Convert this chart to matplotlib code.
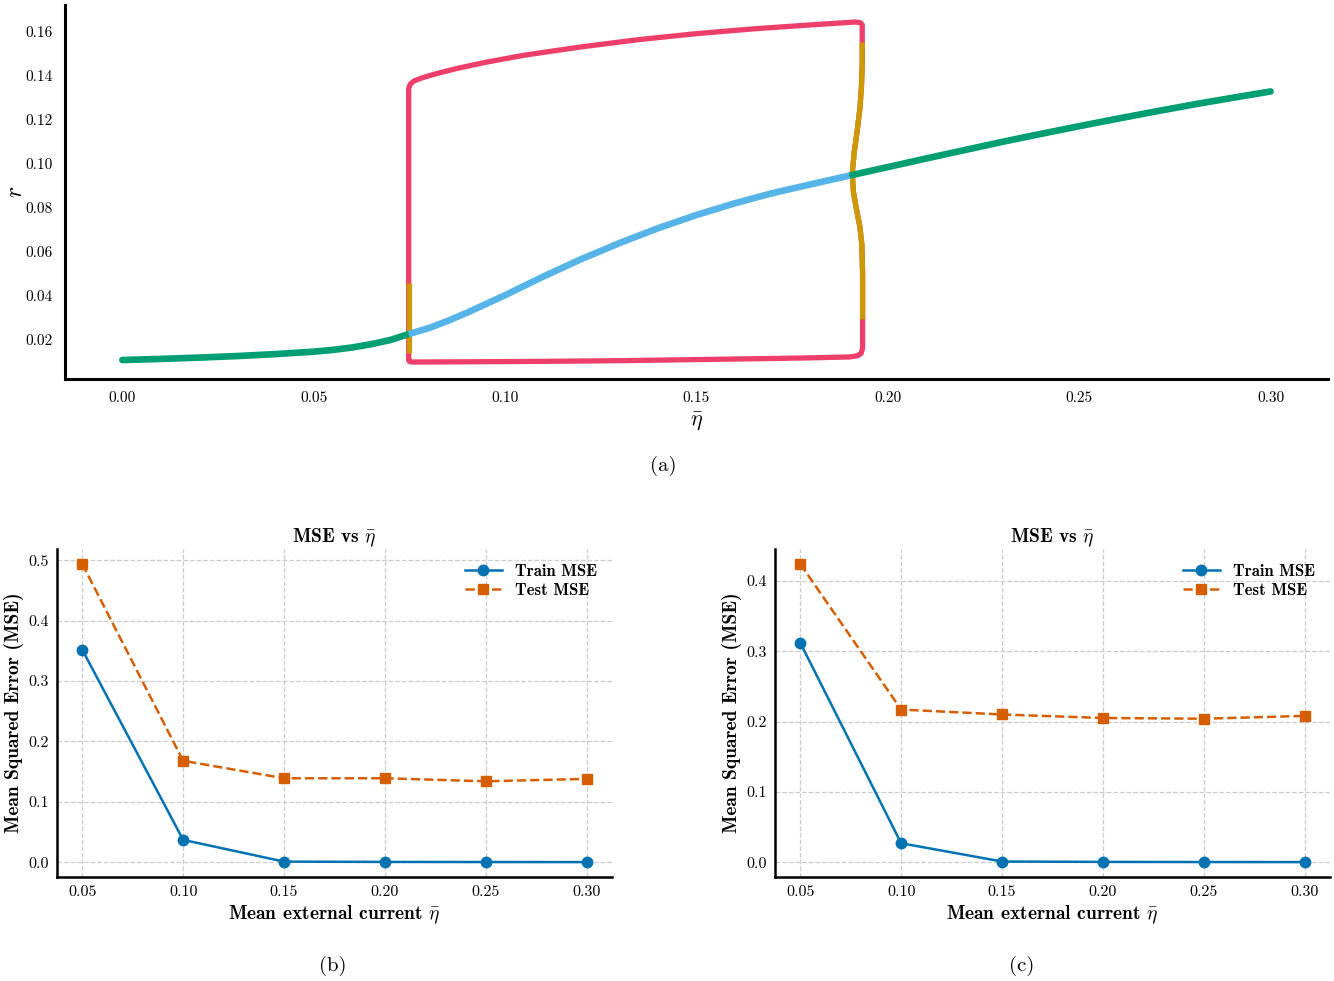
import matplotlib
matplotlib.use("Agg")
import matplotlib.pyplot as plt

plt.rcParams['font.family'] = 'serif'
plt.rcParams['font.serif'] = ['cmr10']
plt.rcParams['mathtext.fontset'] = 'cm'
plt.rcParams['axes.formatter.use_mathtext'] = True
plt.rcParams['axes.unicode_minus'] = False

# ---------------- (a) data ----------------
eta_low = [0.0, 0.01, 0.02, 0.03, 0.04, 0.05, 0.055, 0.06, 0.065, 0.07, 0.0748]
r_low = [0.0105, 0.0110, 0.0116, 0.0123, 0.0132, 0.0143, 0.0151, 0.0162, 0.0177, 0.0196, 0.0223]

eta_mid = [0.0748, 0.08, 0.085, 0.09, 0.095, 0.10, 0.11, 0.12, 0.13, 0.14, 0.15, 0.16, 0.17, 0.18, 0.1907]
r_mid = [0.0223, 0.0250, 0.0283, 0.0320, 0.0360, 0.0400, 0.0485, 0.0565, 0.0638, 0.0705, 0.0765, 0.0818, 0.0865, 0.0905, 0.0947]

eta_high = [0.1907, 0.20, 0.21, 0.22, 0.23, 0.24, 0.25, 0.26, 0.27, 0.28, 0.29, 0.30]
r_high = [0.0947, 0.0983, 0.1022, 0.1060, 0.1098, 0.1134, 0.1169, 0.1203, 0.1236, 0.1268, 0.1298, 0.1327]

loop_eta = [0.0748, 0.0748, 0.0752, 0.0762, 0.0785, 0.0820, 0.0875, 0.095, 0.105, 0.12, 0.135,
            0.15, 0.165, 0.18, 0.1915, 0.1928, 0.1933, 0.1933, 0.1933, 0.1931, 0.1927, 0.1920,
            0.1912, 0.1907, 0.1910, 0.1918, 0.1927, 0.1932, 0.1934, 0.1934, 0.1934, 0.1930,
            0.1920, 0.190, 0.18, 0.17, 0.15, 0.13, 0.11, 0.09, 0.078, 0.0755, 0.0749, 0.0748]
loop_r = [0.0110, 0.1340, 0.1360, 0.1375, 0.1390, 0.1408, 0.1432, 0.1460, 0.1492, 0.1530, 0.1563,
          0.1590, 0.1612, 0.1630, 0.1643, 0.1640, 0.1630, 0.1550, 0.1450, 0.1350, 0.1250, 0.1150,
          0.1050, 0.0955, 0.0870, 0.0790, 0.0710, 0.0630, 0.0500, 0.0290, 0.0160, 0.0135,
          0.0124, 0.0119, 0.0115, 0.0112, 0.0107, 0.0102, 0.0099, 0.0097, 0.0096, 0.0096, 0.0100, 0.0110]

gold_right_eta = [0.1933, 0.1933, 0.1931, 0.1927, 0.1920, 0.1912, 0.1907, 0.1910, 0.1918, 0.1927, 0.1932, 0.1934, 0.1934]
gold_right_r = [0.1550, 0.1450, 0.1350, 0.1250, 0.1150, 0.1050, 0.0955, 0.0870, 0.0790, 0.0710, 0.0630, 0.0500, 0.0290]
gold_left_eta = [0.0748, 0.0748]
gold_left_r = [0.0455, 0.0136]

# ---------------- (b), (c) data ----------------
eta_vals = [0.05, 0.10, 0.15, 0.20, 0.25, 0.30]
train_b = [0.352, 0.037, 0.001, 0.0005, 0.0003, 0.0002]
test_b = [0.494, 0.168, 0.139, 0.139, 0.134, 0.138]
train_c = [0.312, 0.027, 0.001, 0.0005, 0.0003, 0.0002]
test_c = [0.424, 0.217, 0.210, 0.205, 0.204, 0.208]
x_ticks = [0.05, 0.10, 0.15, 0.20, 0.25, 0.30]

GREEN = '#009E73'
BLUE = '#56B4E9'
RED = '#EE3F6B'
GOLD = '#CC9900'
TRAIN = '#0072B2'
TEST = '#D55E00'

fig = plt.figure(figsize=(13.34, 9.81), dpi=100)

# ---------- (a) ----------
ax = fig.add_axes([65/1334, 1-379/981, 1263/1334, 374/981])
ax.plot(loop_eta, loop_r, color=RED, lw=3.8, solid_capstyle='round', solid_joinstyle='round')
ax.plot(gold_right_eta, gold_right_r, color=GOLD, lw=3.8, solid_capstyle='butt')
ax.plot(gold_left_eta, gold_left_r, color=GOLD, lw=3.8, solid_capstyle='butt')
ax.plot(eta_low, r_low, color=GREEN, lw=4.8, solid_capstyle='round')
ax.plot(eta_mid, r_mid, color=BLUE, lw=4.8, solid_capstyle='butt')
ax.plot(eta_high, r_high, color=GREEN, lw=4.8, solid_capstyle='round')
ax.set_xticks([0.0, 0.05, 0.10, 0.15, 0.20, 0.25, 0.30])
ax.set_xticklabels(['0.00', '0.05', '0.10', '0.15', '0.20', '0.25', '0.30'])
ax.set_yticks([0.02, 0.04, 0.06, 0.08, 0.10, 0.12, 0.14, 0.16])
ax.set_yticklabels(['0.02', '0.04', '0.06', '0.08', '0.10', '0.12', '0.14', '0.16'])
ax.tick_params(length=0, labelsize=11, pad=9)
for s in ['top', 'right']:
    ax.spines[s].set_visible(False)
for s in ['left', 'bottom']:
    ax.spines[s].set_linewidth(2.2)
ax.set_xlabel(r'$\bar{\eta}$', fontsize=16, labelpad=4)
ax.set_ylabel(r'$r$', fontsize=17)
ax.yaxis.set_label_coords(-38/1263, 0.5)
fig.text(663/1334, 1-466/981, '(a)', fontsize=15, ha='center', va='center')

# ---------- (b), (c) ----------
def mse_panel(rect, train, test, yticks, caption, cx):
    a = fig.add_axes(rect)
    a.grid(True, linestyle='--', color='#cccccc', linewidth=0.9)
    a.set_axisbelow(True)
    a.plot(eta_vals, train, color=TRAIN, lw=1.8, marker='o', markersize=7.5, label='Train MSE')
    a.plot(eta_vals, test, color=TEST, lw=1.8, ls='--', marker='s', markersize=7.5, label='Test MSE')
    a.set_xticks(x_ticks)
    a.set_xticklabels(['%.2f' % v for v in x_ticks])
    a.set_yticks(yticks)
    a.set_yticklabels(['%.1f' % v for v in yticks])
    a.tick_params(length=0, labelsize=11.5, pad=6)
    for s in ['top', 'right']:
        a.spines[s].set_visible(False)
    for s in ['left', 'bottom']:
        a.spines[s].set_linewidth(1.8)
    a.set_title(r'MSE vs $\bar{\eta}$', fontsize=14, fontfamily='cmb10', pad=5)
    a.set_xlabel(r'Mean external current $\bar{\eta}$', fontsize=14, fontfamily='cmb10', labelpad=3)
    a.set_ylabel('Mean Squared Error (MSE)', fontsize=14, fontfamily='cmb10', labelpad=3)
    a.legend(loc='upper right', frameon=False, prop={'family': 'cmb10', 'size': 12},
             handlelength=2.2, borderaxespad=0.5, labelspacing=0.25)
    fig.text(cx, 1-966/981, caption, fontsize=15, ha='center', va='center')
    return a

mse_panel([57/1334, 1-877/981, 555/1334, 328/981], train_b, test_b,
          [0.0, 0.1, 0.2, 0.3, 0.4, 0.5], '(b)', 333/1334)
mse_panel([775/1334, 1-877/981, 555/1334, 328/981], train_c, test_c,
          [0.0, 0.1, 0.2, 0.3, 0.4], '(c)', 1022/1334)

fig.savefig('out.png', dpi=100)
